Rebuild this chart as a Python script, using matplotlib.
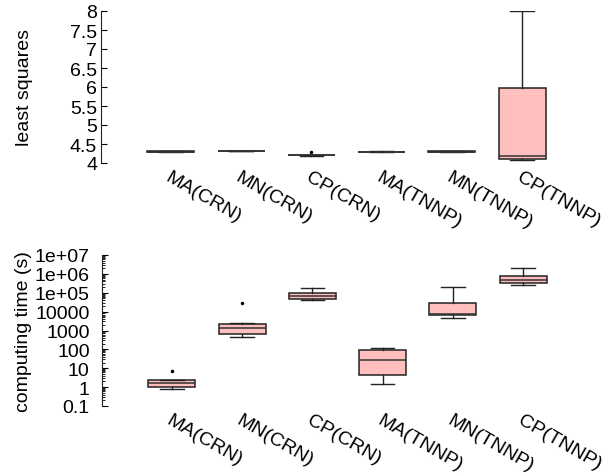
import matplotlib
matplotlib.use("Agg")
import matplotlib.pyplot as plt
from matplotlib.ticker import FixedLocator, FixedFormatter, LogLocator, NullFormatter

plt.rcParams['font.family'] = ['Liberation Sans', 'DejaVu Sans']
plt.rcParams['font.size'] = 14

methods = ["MA(CRN)", "MN(CRN)", "CP(CRN)", "MA(TNNP)", "MN(TNNP)", "CP(TNNP)"]

# least squares: (whislo, q1, med, q3, whishi)
ls_whislo = [4.28, 4.305, 4.19, 4.295, 4.295, 4.08]
ls_q1 = [4.285, 4.305, 4.20, 4.295, 4.295, 4.10]
ls_med = [4.30, 4.31, 4.21, 4.30, 4.30, 4.18]
ls_q3 = [4.31, 4.31, 4.22, 4.30, 4.305, 5.97]
ls_whishi = [4.31, 4.315, 4.22, 4.305, 4.32, 8.0]
ls_fliers = [[], [], [4.28], [], [], []]

# computing time (s)
ct_whislo = [0.75, 470, 42000, 1.5, 4400, 270000]
ct_q1 = [1.04, 650, 45000, 4.3, 6900, 330000]
ct_med = [1.57, 1300, 71000, 26, 7500, 480000]
ct_q3 = [2.26, 2300, 94000, 95, 29000, 750000]
ct_whishi = [2.35, 2600, 174000, 117, 204000, 2000000]
ct_fliers = [[7.1], [30000], [], [], [], []]

ls_ticks = [4, 4.5, 5, 5.5, 6, 6.5, 7, 7.5, 8]
ls_ticklabels = ["4", "4.5", "5", "5.5", "6", "6.5", "7", "7.5", "8"]
ct_ticks = [0.1, 1, 10, 100, 1000, 10000, 1e5, 1e6, 1e7]
ct_ticklabels = ["0.1", "1", "10", "100", "1000", "10000", "1e+05", "1e+06", "1e+07"]


def make_stats(wl, q1, med, q3, wh, fl):
    return [dict(whislo=a, q1=b, med=c, q3=d, whishi=e, fliers=f)
            for a, b, c, d, e, f in zip(wl, q1, med, q3, wh, fl)]


def draw_panel(ax, stats, ypad):
    ax.bxp(stats, positions=range(1, len(stats) + 1), widths=0.67,
           patch_artist=True, showcaps=True,
           boxprops=dict(facecolor="#ffbfbf", edgecolor="#222222", linewidth=1.1),
           medianprops=dict(color="#333333", linewidth=1.1),
           whiskerprops=dict(color="#222222", linewidth=1),
           capprops=dict(color="#222222", linewidth=1),
           flierprops=dict(marker='.', markersize=3, markerfacecolor='black',
                           markeredgecolor='black'))
    ax.set_xlim(0, 7)
    for s in ["top", "right", "bottom"]:
        ax.spines[s].set_visible(False)
    ax.spines["left"].set_color("#222222")
    ax.tick_params(axis='x', length=0, pad=4)
    ax.tick_params(axis='y', direction='in', length=4, pad=ypad, which='major')
    ax.set_xticks(range(1, len(methods) + 1))
    ax.set_xticklabels(methods, rotation=-30, ha='left', va='top',
                       rotation_mode='anchor')
    ax.yaxis.set_label_coords(-0.138, 0.5)


fig = plt.figure(figsize=(6.08, 4.77), dpi=100)
ax1 = fig.add_axes([100.5 / 608, 1 - 164 / 477, 492 / 608, 152 / 477])
ax2 = fig.add_axes([101.5 / 608, 1 - 407 / 477, 492 / 608, 151 / 477])

draw_panel(ax1, make_stats(ls_whislo, ls_q1, ls_med, ls_q3, ls_whishi, ls_fliers), 2.5)
ax1.set_ylim(4, 8)
ax1.yaxis.set_major_locator(FixedLocator(ls_ticks))
ax1.yaxis.set_major_formatter(FixedFormatter(ls_ticklabels))
ax1.set_ylabel("least squares")

draw_panel(ax2, make_stats(ct_whislo, ct_q1, ct_med, ct_q3, ct_whishi, ct_fliers), 8.5)
ax2.set_yscale('log')
ax2.set_ylim(0.1, 1e7)
ax2.yaxis.set_major_locator(FixedLocator(ct_ticks))
ax2.yaxis.set_major_formatter(FixedFormatter(ct_ticklabels))
ax2.yaxis.set_minor_locator(LogLocator(base=10, subs=range(2, 10), numticks=20))
ax2.yaxis.set_minor_formatter(NullFormatter())
ax2.tick_params(axis='y', which='minor', direction='in', length=2)
ax2.set_ylabel("computing time (s)")
ax2.yaxis.set_label_coords(-0.141, 0.5)

fig.savefig("out.png", dpi=100)
